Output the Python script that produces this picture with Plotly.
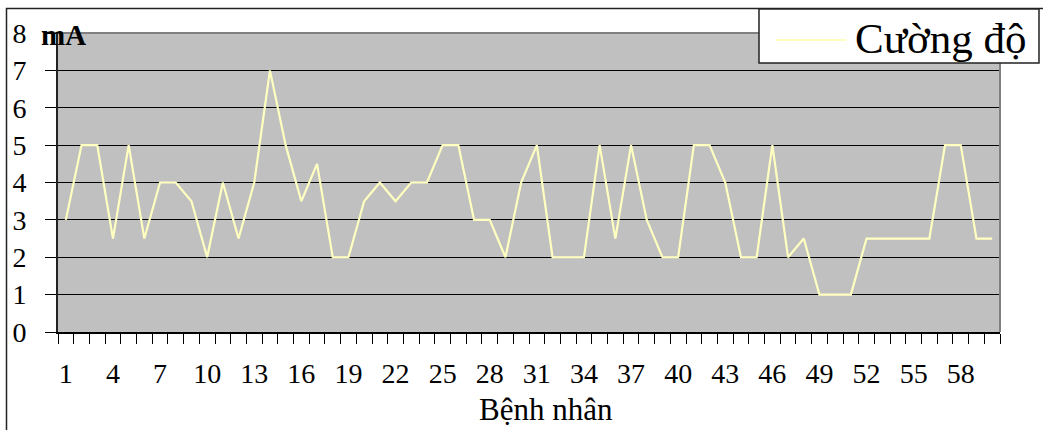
import plotly.graph_objects as go

patients = list(range(1, 61))
current_mA = [3, 5, 5, 2.5, 5, 2.5, 4, 4, 3.5, 2,
              4, 2.5, 4, 7, 5, 3.5, 4.5, 2, 2, 3.5,
              4, 3.5, 4, 4, 5, 5, 3, 3, 2, 4,
              5, 2, 2, 2, 5, 2.5, 5, 3, 2, 2,
              5, 5, 4, 2, 2, 5, 2, 2.5, 1, 1,
              1, 2.5, 2.5, 2.5, 2.5, 2.5, 5, 5, 2.5, 2.5]
x_tick_labels = [str(v) for v in range(1, 59, 3)]
y_ticks = list(range(0, 9))
series_name = "Cường độ"
line_color = "#FFFFC0"

W, H = 1043, 430
L, R, T, B = 58, 43, 33, 98
pw, ph = W - L - R, H - T - B

def px_x(p):
    return (p - L) / pw

def px_y(p):
    return (H - B - p) / ph

FONT = "Liberation Serif"

fig = go.Figure()
fig.add_trace(go.Scatter(
    x=patients, y=current_mA, mode="lines", name=series_name,
    line=dict(color=line_color, width=2.2), showlegend=False,
))

fig.update_layout(
    width=W, height=H,
    margin=dict(l=L, r=R, t=T, b=B, autoexpand=False),
    paper_bgcolor="white",
    plot_bgcolor="#C0C0C0",
    font=dict(family=FONT, color="black", size=27),
    showlegend=False,
    xaxis=dict(
        range=[0.5, 60.5],
        tickmode="array",
        tickvals=[int(t) for t in x_tick_labels],
        ticktext=x_tick_labels,
        ticks="outside", ticklen=16, tickcolor="rgba(0,0,0,0)",
        showgrid=False, zeroline=False,
        showline=True, linecolor="black", linewidth=1.5,
        tickfont=dict(size=28, family=FONT),
        minor=dict(tick0=0.5, dtick=1, ticks="outside", ticklen=10,
                   tickcolor="black", tickwidth=1, showgrid=False),
    ),
    yaxis=dict(
        range=[0, 8],
        tickmode="array", tickvals=y_ticks,
        ticks="outside", ticklen=11, tickcolor="black", tickwidth=1,
        ticklabelstandoff=13,
        showgrid=True, gridcolor="black", gridwidth=1,
        zeroline=False,
        showline=True, linecolor="#222222", linewidth=2,
        tickfont=dict(size=28, family=FONT),
    ),
    shapes=[
        dict(type="line", xref="paper", yref="paper", x0=0, x1=1, y0=1, y1=1,
             line=dict(color="#808080", width=2)),
        dict(type="line", xref="paper", yref="paper", x0=1, x1=1, y0=0, y1=1,
             line=dict(color="#808080", width=2)),
        # outer chart frame
        dict(type="rect", xref="paper", yref="paper",
             x0=px_x(6.5), x1=px_x(1060), y0=px_y(440), y1=px_y(8.5),
             line=dict(color="#222222", width=1.5), layer="below"),
        # legend box
        dict(type="rect", xref="paper", yref="paper",
             x0=px_x(759), x1=px_x(1039), y0=px_y(63), y1=px_y(9),
             fillcolor="white", line=dict(color="#222222", width=1.5),
             layer="above"),
        # legend sample line
        dict(type="line", xref="paper", yref="paper",
             x0=px_x(776), x1=px_x(846), y0=px_y(40), y1=px_y(40),
             line=dict(color=line_color, width=2.2), layer="above"),
    ],
    annotations=[
        dict(text="<b>mA</b>", xref="paper", yref="paper",
             x=px_x(39), y=px_y(35), xanchor="left", yanchor="middle",
             showarrow=False, font=dict(size=29, family=FONT)),
        dict(text="Bệnh nhân", xref="paper", yref="paper",
             x=px_x(546), y=px_y(409), xanchor="center", yanchor="middle",
             showarrow=False, font=dict(size=31, family=FONT)),
        dict(text=series_name, xref="paper", yref="paper",
             x=px_x(853), y=px_y(38), xanchor="left", yanchor="middle",
             showarrow=False, font=dict(size=43, family=FONT)),
    ],
)

fig.write_html("out.html")
